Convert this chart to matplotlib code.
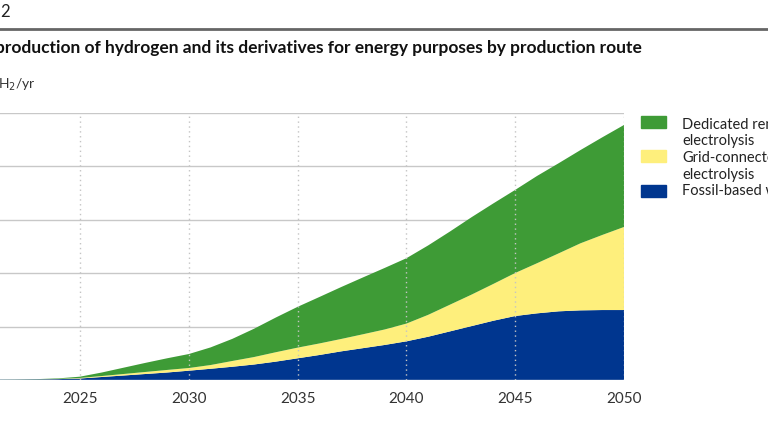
import matplotlib.pyplot as plt
from matplotlib.patches import Rectangle

plt.rcParams['font.family'] = ['Lato', 'DejaVu Sans']

# Datos (Mt H2/yr)
years = [2020, 2021, 2022, 2023, 2024, 2025, 2026, 2027, 2028, 2029, 2030,
         2031, 2032, 2033, 2034, 2035, 2036, 2037, 2038, 2039, 2040,
         2041, 2042, 2043, 2044, 2045, 2046, 2047, 2048, 2049, 2050]
total = [0.2, 0.3, 0.5, 0.8, 1.5, 3.1, 7.0, 11.5, 16.0, 20.3, 24.3,
         30.5, 38.5, 48.0, 58.5, 68.5, 77.7, 87.0, 96.0, 104.9, 114.0,
         126.0, 139.0, 152.5, 165.4, 178.0, 191.0, 203.0, 215.3, 227.2, 238.8]
grid_cum = [0.1, 0.2, 0.4, 0.6, 1.0, 1.9, 3.7, 5.6, 7.5, 9.4, 11.2,
            14.0, 17.8, 21.5, 26.0, 30.3, 34.2, 38.4, 42.8, 47.3, 52.8,
            61.0, 70.5, 80.0, 90.0, 100.2, 109.3, 118.6, 128.0, 135.8, 143.3]
fossil = [0.1, 0.2, 0.3, 0.5, 0.8, 1.4, 2.8, 4.2, 5.6, 7.0, 8.7,
          10.5, 12.4, 14.5, 17.2, 20.3, 23.4, 26.8, 29.8, 32.8, 36.2,
          40.5, 45.5, 50.5, 55.5, 59.9, 62.4, 64.3, 65.2, 65.5, 65.5]

grid = [g - f for g, f in zip(grid_cum, fossil)]
dedicated = [t - g for t, g in zip(total, grid_cum)]

labels = ["Dedicated renewable\nelectrolysis", "Grid-connected\nelectrolysis", "Fossil-based with CCS"]
colors = ["#3E9B36", "#FEEF7C", "#00368F"]
xticks = [2025, 2030, 2035, 2040, 2045, 2050]
yticks = [0, 50, 100, 150, 200, 250]

fig = plt.figure(figsize=(7.68, 4.32), dpi=100)
ax = fig.add_axes([-0.0375, 0.1204, 0.85, 0.618])

for y in yticks:
    ax.axhline(y, color="#c8c8c8", lw=1, zorder=0)

ax.stackplot(years, fossil, grid, dedicated,
             colors=[colors[2], colors[1], colors[0]], lw=0, zorder=2)

for x in xticks:
    ax.axvline(x, color="#c4c4c4", lw=1, ls=(0, (1, 2.5)), zorder=3)
ax.axhline(0, color="#c0c8d8", lw=1, zorder=3)

ax.set_xlim(2020, 2050)
ax.set_ylim(0, 250)
ax.set_xticks(xticks)
ax.set_xticklabels([str(x) for x in xticks], fontsize=11, color="#333333")
ax.set_yticks([])
ax.tick_params(axis="x", length=0, pad=9)
for s in ax.spines.values():
    s.set_visible(False)

# Cabecera
fig.text(0.0, 0.972, "2", fontsize=12, color="#222222", va="center", ha="left")
fig.add_artist(plt.Line2D([0, 1], [0.933, 0.933], color="#666666", lw=2, transform=fig.transFigure))
fig.text(-0.006, 0.888, "production of hydrogen and its derivatives for energy purposes by production route",
         fontsize=12.5, fontweight="bold", color="#111111", va="center", ha="left")
fig.text(-0.003, 0.803, "H$_2$/yr", fontsize=10, color="#333333", va="center", ha="left")

# Leyenda manual
rect_y = [0.7037, 0.625, 0.544]
text_y = [0.692, 0.615, 0.558]
for i in range(3):
    fig.add_artist(Rectangle((0.835, rect_y[i]), 0.0325, 0.027,
                             color=colors[i], transform=fig.transFigure))
    fig.text(0.888, text_y[i], labels[i], fontsize=10.5, color="#222222",
             va="center", ha="left", linespacing=1.25)

fig.savefig("out.png", dpi=100)
